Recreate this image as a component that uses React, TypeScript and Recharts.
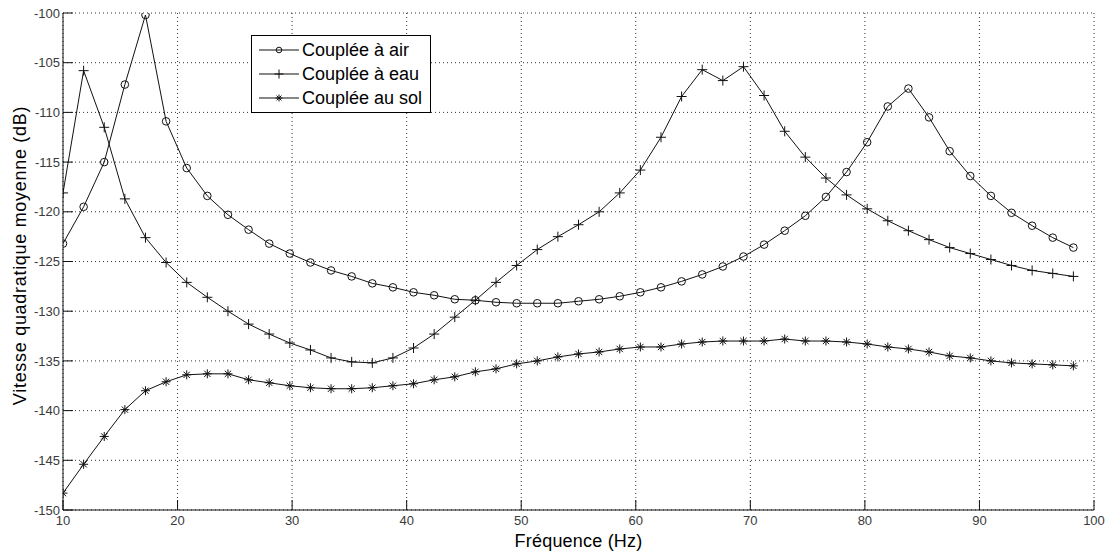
import { LineChart, Line, XAxis, YAxis, CartesianGrid, Legend } from 'recharts';

const freq = [
  10, 11.8, 13.6, 15.4, 17.2, 19, 20.8, 22.6, 24.4, 26.2, 28, 29.8, 31.6, 33.4, 35.2, 37, 38.8,
  40.6, 42.4, 44.2, 46, 47.8, 49.6, 51.4, 53.2, 55, 56.8, 58.6, 60.4, 62.2, 64, 65.8, 67.6, 69.4,
  71.2, 73, 74.8, 76.6, 78.4, 80.2, 82, 83.8, 85.6, 87.4, 89.2, 91, 92.8, 94.6, 96.4, 98.2,
];

const air = [
  -123.2, -119.5, -115.0, -107.2, -100.2, -110.9, -115.6, -118.4, -120.3, -121.8,
  -123.2, -124.2, -125.1, -125.9, -126.5, -127.2, -127.6, -128.1, -128.4, -128.8,
  -128.9, -129.1, -129.2, -129.2, -129.2, -129.0, -128.8, -128.5, -128.1, -127.6,
  -127.0, -126.3, -125.5, -124.5, -123.3, -121.9, -120.4, -118.5, -116.0, -113.0,
  -109.4, -107.6, -110.5, -113.9, -116.4, -118.4, -120.1, -121.4, -122.6, -123.6,
];

const eau = [
  -118.1, -105.8, -111.5, -118.7, -122.6, -125.1, -127.1, -128.6, -130.0, -131.3,
  -132.3, -133.2, -133.9, -134.7, -135.1, -135.2, -134.7, -133.7, -132.3, -130.6,
  -128.9, -127.1, -125.4, -123.8, -122.5, -121.3, -120.0, -118.1, -115.8, -112.5,
  -108.4, -105.7, -106.8, -105.4, -108.3, -111.9, -114.5, -116.6, -118.3, -119.7,
  -120.9, -121.9, -122.8, -123.6, -124.2, -124.8, -125.4, -125.9, -126.2, -126.5,
];

const sol = [
  -148.3, -145.4, -142.6, -139.9, -138.0, -137.1, -136.4, -136.3, -136.3, -136.9,
  -137.2, -137.5, -137.7, -137.8, -137.8, -137.7, -137.5, -137.3, -136.9, -136.6,
  -136.1, -135.8, -135.3, -135.0, -134.6, -134.3, -134.1, -133.8, -133.6, -133.6,
  -133.3, -133.1, -133.0, -133.0, -133.0, -132.8, -133.0, -133.0, -133.1, -133.3,
  -133.6, -133.8, -134.1, -134.5, -134.7, -135.0, -135.2, -135.3, -135.4, -135.5,
];

const xTicks = [10, 20, 30, 40, 50, 60, 70, 80, 90, 100];
const yTicks = [-150, -145, -140, -135, -130, -125, -120, -115, -110, -105, -100];

const seriesNames = ['Couplée à air', 'Couplée à eau', 'Couplée au sol'];

const data = freq.map((f, i) => ({ f, air: air[i], eau: eau[i], sol: sol[i] }));

const INK = '#111';
const FONT = '"Liberation Sans", Arial, sans-serif';

// marker shapes, MATLAB style
function markCircle(cx: number, cy: number, r: number, key?: string) {
  return <circle key={key} cx={cx} cy={cy} r={r} fill="none" stroke={INK} strokeWidth={1} />;
}
function markPlus(cx: number, cy: number, s: number, key?: string) {
  return (
    <path key={key} d={`M${cx - s},${cy}H${cx + s}M${cx},${cy - s}V${cy + s}`} stroke={INK} strokeWidth={1} fill="none" />
  );
}
function markStar(cx: number, cy: number, s: number, key?: string) {
  const d = s * 0.7;
  return (
    <path
      key={key}
      d={`M${cx - s},${cy}H${cx + s}M${cx},${cy - s}V${cy + s}M${cx - d},${cy - d}L${cx + d},${cy + d}M${cx - d},${cy + d}L${cx + d},${cy - d}`}
      stroke={INK}
      strokeWidth={1}
      fill="none"
    />
  );
}

const markers = [
  (cx: number, cy: number, k?: string) => markCircle(cx, cy, 3.8, k),
  (cx: number, cy: number, k?: string) => markPlus(cx, cy, 5, k),
  (cx: number, cy: number, k?: string) => markStar(cx, cy, 4.5, k),
];
const legendMarkers = [
  (cx: number, cy: number) => markCircle(cx, cy, 2.8),
  (cx: number, cy: number) => markPlus(cx, cy, 4.5),
  (cx: number, cy: number) => markStar(cx, cy, 3.5),
];

function LegendBox() {
  return (
    <div
      style={{
        border: '1px solid #000',
        background: '#fff',
        width: 178,
        height: 74,
        paddingTop: 2,
        boxSizing: 'content-box',
        fontFamily: FONT,
      }}
    >
      {seriesNames.map((name, i) => (
        <div key={name} style={{ display: 'flex', alignItems: 'center', height: 24 }}>
          <svg width={50} height={24} style={{ display: 'block' }}>
            <line x1={7} x2={47} y1={12} y2={12} stroke={INK} strokeWidth={1} />
            {legendMarkers[i](27, 12)}
          </svg>
          <span style={{ fontSize: 18, color: '#000', lineHeight: '24px', whiteSpace: 'nowrap' }}>{name}</span>
        </div>
      ))}
    </div>
  );
}

const tickStyle = { fill: '#3a3a3a', fontSize: 13, fontFamily: FONT };

export default function App() {
  return (
    <div style={{ position: 'absolute', left: 0, top: 0, width: 1109, height: 555, background: '#fff' }}>
      <LineChart width={1109} height={555} data={data} margin={{ top: 13, right: 15, bottom: 15, left: 13 }}>
        <CartesianGrid stroke="#333" strokeDasharray="1 3" />
        <XAxis
          dataKey="f"
          type="number"
          domain={[10, 100]}
          ticks={xTicks}
          interval={0}
          allowDataOverflow
          height={30}
          tickSize={-10}
          tickMargin={16}
          axisLine={{ stroke: INK }}
          tickLine={{ stroke: INK }}
          tick={tickStyle}
          label={{
            value: 'Fréquence (Hz)',
            position: 'insideBottom',
            offset: -7,
            fontSize: 18,
            letterSpacing: 0.2,
            fill: '#000',
            fontFamily: FONT,
          }}
        />
        <XAxis
          xAxisId="top"
          orientation="top"
          type="number"
          domain={[10, 100]}
          ticks={xTicks}
          interval={0}
          allowDataOverflow
          height={0}
          tickSize={-10}
          axisLine={{ stroke: INK }}
          tickLine={{ stroke: INK }}
          tick={false}
        />
        <YAxis
          type="number"
          domain={[-150, -100]}
          ticks={yTicks}
          interval={0}
          allowDataOverflow
          width={50}
          tickSize={-10}
          tickMargin={13}
          axisLine={{ stroke: INK }}
          tickLine={{ stroke: INK }}
          tick={tickStyle}
          label={{
            value: 'Vitesse quadratique moyenne (dB)',
            angle: -90,
            position: 'center',
            dx: -18,
            dy: -6,
            fontSize: 18,
            letterSpacing: 0.7,
            fill: '#000',
            fontFamily: FONT,
          }}
        />
        <YAxis
          yAxisId="right"
          orientation="right"
          type="number"
          domain={[-150, -100]}
          ticks={yTicks}
          interval={0}
          allowDataOverflow
          width={0}
          tickSize={-10}
          axisLine={{ stroke: INK }}
          tickLine={{ stroke: INK }}
          tick={false}
        />
        <Legend
          layout="vertical"
          align="center"
          verticalAlign="middle"
          content={() => <LegendBox />}
          wrapperStyle={{ position: 'absolute', left: 251, top: 35, width: 180, height: 77 }}
        />
        {(['air', 'eau', 'sol'] as const).map((k, si) => (
          <Line
            key={k}
            dataKey={k}
            name={seriesNames[si]}
            type="linear"
            stroke={INK}
            strokeWidth={1}
            isAnimationActive={false}
            dot={(p: any) => markers[si](p.cx, p.cy, `${k}-${p.index}`)}
            activeDot={false}
          />
        ))}
      </LineChart>
    </div>
  );
}
